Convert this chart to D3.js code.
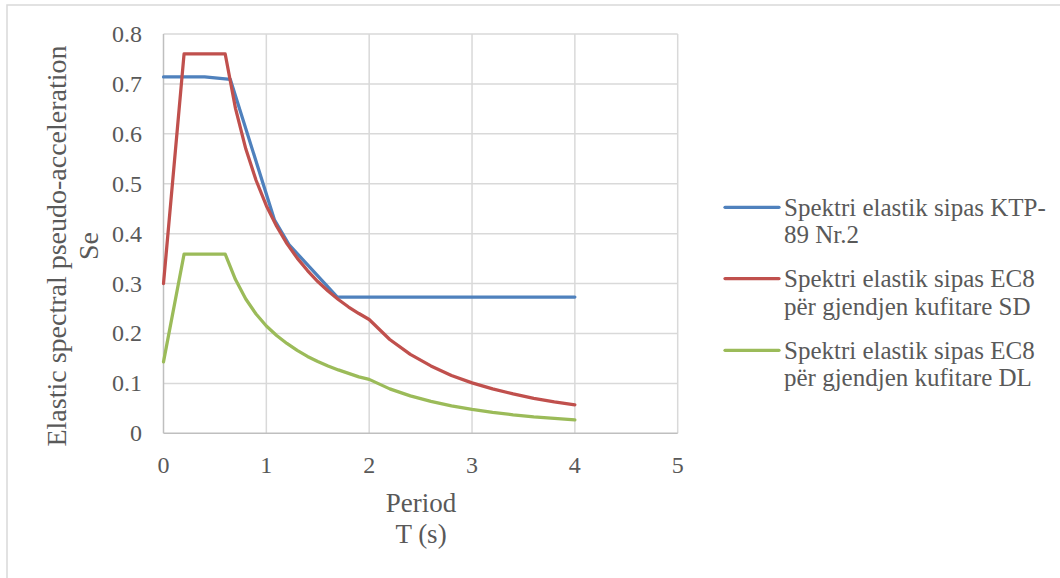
<!DOCTYPE html>
<meta charset="utf-8">
<html>
<head>
    <script src="https://d3js.org/d3.v7.js"></script>
    <style>
        body { margin: 0; background: #fff; }
        text { font-family: "Liberation Serif", serif; fill: #595959; }
    </style>
</head>
<body>
<script>

    // Spektri elastik sipas KTP-89 Nr.2
    const tKtp = [0, 0.4, 0.65, 1.08, 1.22, 1.69, 2, 3, 4];
    const seKtp = [0.714, 0.714, 0.709, 0.427, 0.378, 0.273, 0.273, 0.273, 0.273];

    // EC8 spectra share the same periods
    const tEc8 = [0, 0.2, 0.6, 0.7, 0.8, 0.9, 1.0, 1.1, 1.2, 1.3, 1.4, 1.5, 1.6, 1.7, 1.8, 1.9, 2.0,
        2.2, 2.4, 2.6, 2.8, 3.0, 3.2, 3.4, 3.6, 3.8, 4.0];
    const seEc8Sd = [0.30, 0.76, 0.76, 0.651, 0.570, 0.507, 0.456, 0.415, 0.380, 0.351, 0.326, 0.304,
        0.285, 0.268, 0.253, 0.240, 0.228, 0.188, 0.158, 0.135, 0.116, 0.101, 0.089, 0.079, 0.070, 0.063, 0.057];
    const seEc8Dl = [0.143, 0.359, 0.359, 0.308, 0.269, 0.239, 0.215, 0.196, 0.180, 0.166, 0.154, 0.144,
        0.135, 0.127, 0.120, 0.113, 0.108, 0.089, 0.075, 0.064, 0.055, 0.048, 0.042, 0.037, 0.033, 0.030, 0.027];

    const seriesNames = [
        ["Spektri elastik sipas KTP-", "89 Nr.2"],
        ["Spektri elastik sipas EC8", "për gjendjen kufitare SD"],
        ["Spektri elastik sipas EC8", "për gjendjen kufitare DL"]
    ];
    const seriesColors = ["#4f81bd", "#c0504d", "#9bbb59"];

    const xTicks = [0, 1, 2, 3, 4, 5];
    const yTicks = [0, 0.1, 0.2, 0.3, 0.4, 0.5, 0.6, 0.7, 0.8];
    const yTickLabels = ["0", "0.1", "0.2", "0.3", "0.4", "0.5", "0.6", "0.7", "0.8"];

    const width = 1060, height = 578;

    const svg = d3.select("body").append("svg")
        .attr("width", width)
        .attr("height", height);

    // outer chart border (runs off the right and bottom edge)
    svg.append("rect")
        .attr("x", 7).attr("y", 5)
        .attr("width", 1100).attr("height", 600)
        .attr("fill", "none")
        .attr("stroke", "#d9d9d9")
        .attr("stroke-width", 1.5);

    const x = d3.scaleLinear().domain([0, 5]).range([163.5, 677.7]);
    const y = d3.scaleLinear().domain([0, 0.8]).range([433.3, 34]);

    // gridlines
    svg.append("g").selectAll("line")
        .data(yTicks.slice(1))
        .enter().append("line")
        .attr("x1", x(0)).attr("x2", x(5))
        .attr("y1", d => y(d)).attr("y2", d => y(d))
        .attr("stroke", "#d9d9d9").attr("stroke-width", 1.5);

    svg.append("g").selectAll("line")
        .data(xTicks.slice(1))
        .enter().append("line")
        .attr("x1", d => x(d)).attr("x2", d => x(d))
        .attr("y1", y(0)).attr("y2", y(0.8))
        .attr("stroke", "#d9d9d9").attr("stroke-width", 1.5);

    // axis lines
    svg.append("line")
        .attr("x1", x(0)).attr("x2", x(0))
        .attr("y1", y(0)).attr("y2", y(0.8))
        .attr("stroke", "#bfbfbf").attr("stroke-width", 1.5);
    svg.append("line")
        .attr("x1", x(0)).attr("x2", x(5))
        .attr("y1", y(0)).attr("y2", y(0))
        .attr("stroke", "#bfbfbf").attr("stroke-width", 1.5);

    // tick labels
    svg.append("g").selectAll("text")
        .data(yTicks)
        .enter().append("text")
        .attr("x", 142)
        .attr("y", d => y(d) + 8)
        .attr("text-anchor", "end")
        .style("font-size", "24px")
        .text((d, i) => yTickLabels[i]);

    svg.append("g").selectAll("text")
        .data(xTicks)
        .enter().append("text")
        .attr("x", d => x(d))
        .attr("y", 472.5)
        .attr("text-anchor", "middle")
        .style("font-size", "24px")
        .text(d => d);

    // axis titles
    const xTitle = svg.append("text")
        .attr("text-anchor", "middle")
        .style("font-size", "27px");
    xTitle.append("tspan").attr("x", 421).attr("y", 511.5).text("Period");
    xTitle.append("tspan").attr("x", 421).attr("y", 543).text("T (s)");

    const yTitle = svg.append("text")
        .attr("text-anchor", "middle")
        .attr("transform", "translate(0,246) rotate(-90)")
        .style("font-size", "28px");
    yTitle.append("tspan").attr("x", 0).attr("y", 66).text("Elastic spectral pseudo-acceleration");
    yTitle.append("tspan").attr("x", 0).attr("y", 98).text("Se");

    // series
    const series = [
        tKtp.map((t, i) => [t, seKtp[i]]),
        tEc8.map((t, i) => [t, seEc8Sd[i]]),
        tEc8.map((t, i) => [t, seEc8Dl[i]])
    ];

    const line = d3.line()
        .x(d => x(d[0]))
        .y(d => y(d[1]));

    svg.append("g").selectAll("path")
        .data(series)
        .enter().append("path")
        .attr("d", line)
        .attr("fill", "none")
        .attr("stroke", (d, i) => seriesColors[i])
        .attr("stroke-width", 3.25)
        .attr("stroke-linejoin", "round")
        .attr("stroke-linecap", "round");

    // legend
    const legendY = [207.3, 278.5, 350.3];
    const legend = svg.append("g").selectAll("g")
        .data(seriesNames)
        .enter().append("g")
        .attr("transform", (d, i) => `translate(0,${legendY[i]})`);

    legend.append("line")
        .attr("x1", 725).attr("x2", 779)
        .attr("y1", 0).attr("y2", 0)
        .attr("stroke", (d, i) => seriesColors[i])
        .attr("stroke-width", 3.25)
        .attr("stroke-linecap", "round");

    const legendText = legend.append("text")
        .style("font-size", "25px");
    legendText.append("tspan").attr("x", 784).attr("y", 8.4).text(d => d[0]);
    legendText.append("tspan").attr("x", 784).attr("y", 36).text(d => d[1]);

</script>
</body>
</html>
